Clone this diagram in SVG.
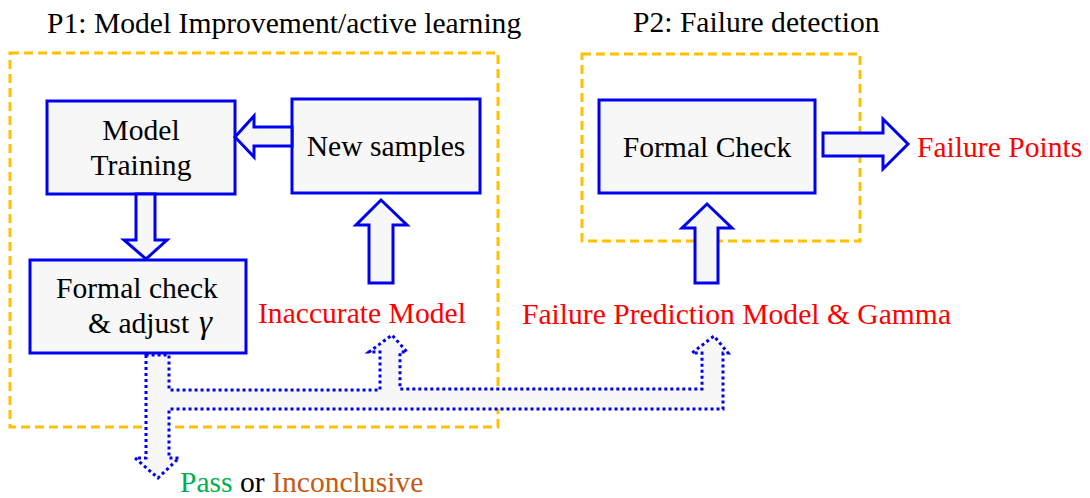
<svg xmlns="http://www.w3.org/2000/svg" width="1090" height="498" viewBox="0 0 1090 498">
  <style>
    .frame { fill: none; stroke: #FFC000; stroke-width: 3; stroke-dasharray: 9 5; }
    .box { fill: #F7F7F7; stroke: #0000F0; stroke-width: 3; }
    .arrow { fill: #F7F7F7; stroke: #0000F0; stroke-width: 3; stroke-linejoin: miter; }
    .dotted { fill: #F7F7F7; stroke: #0000F0; stroke-width: 3; stroke-dasharray: 3 3; }
    .lbl { font-family: 'Liberation Serif', 'DejaVu Serif', serif; font-size: 29.6px; fill: #000000; }
    .red { fill: #FF0000; }
    .mid { text-anchor: middle; }
  </style>

  <!-- phase frames -->
  <g id="phase1">
    <rect class="frame" x="10" y="53" width="488" height="374"/>
    <text class="lbl" x="47" y="33">P1: Model Improvement/active learning</text>
  </g>
  <g id="phase2">
    <rect class="frame" x="582" y="54" width="278" height="187"/>
    <text class="lbl" x="633" y="32">P2: Failure detection</text>
  </g>

  <!-- process boxes -->
  <g id="model-training">
    <rect class="box" x="47" y="101" width="188" height="93"/>
    <text class="lbl mid" x="141" y="140">Model</text>
    <text class="lbl mid" x="141" y="175">Training</text>
  </g>
  <g id="new-samples">
    <rect class="box" x="292" y="99" width="188" height="94"/>
    <text class="lbl mid" x="386" y="156">New samples</text>
  </g>
  <g id="formal-check-adjust">
    <rect class="box" x="30" y="260" width="216" height="93"/>
    <text class="lbl" x="56" y="298">Formal check</text>
    <text class="lbl" x="88" y="333">&amp; adjust <tspan x="199" font-style="italic" font-size="33px">γ</tspan></text>
  </g>
  <g id="formal-check">
    <rect class="box" x="599" y="100" width="216" height="93"/>
    <text class="lbl mid" x="707" y="157">Formal Check</text>
  </g>

  <!-- outcome labels -->
  <g id="inaccurate-model">
    <text class="lbl red" x="258" y="323">Inaccurate Model</text>
  </g>
  <g id="failure-prediction">
    <text class="lbl red" x="522" y="324">Failure Prediction Model &amp; Gamma</text>
  </g>
  <g id="failure-points">
    <text class="lbl red" x="917" y="157">Failure Points</text>
  </g>
  <g id="pass-inconclusive">
    <text class="lbl" x="180" y="492"><tspan fill="#00B050">Pass</tspan> or <tspan fill="#C55A11">Inconclusive</tspan></text>
  </g>

  <!-- connectors -->
  <g id="connectors">
    <!-- new samples -> model training -->
    <polygon class="arrow" points="292,127 254,127 254,116 235,137 254,157 254,146 292,146"/>
    <!-- model training -> formal check & adjust -->
    <polygon class="arrow" points="136,194 155,194 155,240 167,240 146,259 124,240 136,240"/>
    <!-- inaccurate model -> new samples -->
    <polygon class="arrow" points="369,283 369,225 356,225 381,200 407,225 393,225 393,283"/>
    <!-- failure prediction model -> formal check -->
    <polygon class="arrow" points="695,283 695,228 682,228 707,204 732,228 718,228 718,283"/>
    <!-- formal check -> failure points -->
    <polygon class="arrow" points="823,133 883,133 883,119 908,144 883,169 883,156 823,156"/>
    <!-- branching result of formal check & adjust -->
    <path class="dotted" d="M146,355 L146,458 L135,458 L158,478 L179,458 L169,458 L169,409 L723,409 L723,353 L728,353 L714,336 L692,353 L702,353 L702,389 L400,389 L400,352 L407,352 L392,335 L369,352 L380,352 L380,390 L169,390 L169,355 Z"/>
  </g>
</svg>
